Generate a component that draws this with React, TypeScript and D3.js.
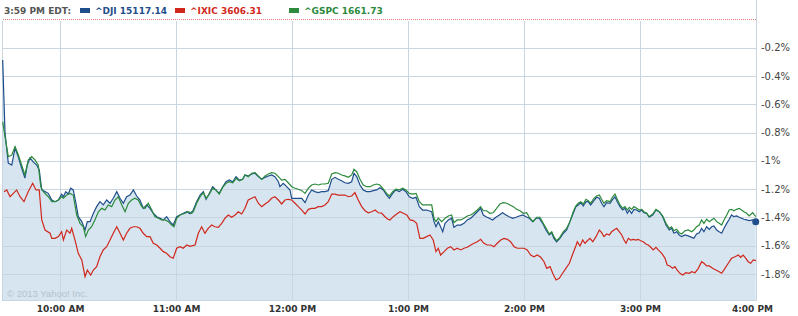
import React from "react";
import * as d3 from "d3";

// minutes since 9:30 AM, % change
const dji: [number, number][] = [
[0.1,-0.288],[1.3,-0.803],[3.0,-1.016],[4.8,-1.030],[6.5,-0.909],[8.2,-0.973],[9.9,-1.051],[11.6,-1.122],[12.8,-1.030],[14.2,-0.980],[15.9,-1.008],[17.7,-1.030],[19.0,-1.065],[20.3,-1.206],[21.1,-1.211],[23.7,-1.230],[25.5,-1.277],[27.2,-1.289],[28.9,-1.277],[30.6,-1.235],[31.5,-1.254],[32.7,-1.218],[34.0,-1.235],[35.3,-1.194],[36.6,-1.206],[38.0,-1.300],[39.2,-1.395],[41.0,-1.430],[42.7,-1.489],[43.9,-1.430],[45.3,-1.430],[47.0,-1.371],[48.7,-1.324],[50.4,-1.289],[52.1,-1.312],[53.9,-1.277],[55.6,-1.300],[57.3,-1.265],[59.1,-1.218],[60.8,-1.265],[62.5,-1.300],[64.2,-1.254],[65.9,-1.242],[67.7,-1.206],[69.4,-1.249],[71.1,-1.277],[72.8,-1.336],[74.6,-1.312],[76.3,-1.336],[78.0,-1.371],[79.8,-1.395],[81.5,-1.406],[83.2,-1.418],[84.9,-1.395],[86.6,-1.430],[88.3,-1.454],[90.1,-1.395],[91.8,-1.383],[93.5,-1.371],[95.3,-1.360],[97.0,-1.374],[98.7,-1.348],[100.4,-1.289],[102.2,-1.242],[103.9,-1.218],[105.3,-1.272],[107.0,-1.230],[108.7,-1.183],[110.4,-1.206],[112.1,-1.230],[113.9,-1.183],[115.6,-1.148],[117.3,-1.136],[119.1,-1.148],[120.8,-1.112],[122.5,-1.136],[124.2,-1.131],[125.4,-1.100],[127.1,-1.107],[128.9,-1.093],[130.6,-1.088],[132.3,-1.112],[134.1,-1.131],[135.8,-1.117],[137.5,-1.107],[139.2,-1.100],[140.9,-1.112],[142.7,-1.148],[143.5,-1.183],[145.2,-1.159],[147.0,-1.183],[148.7,-1.206],[149.6,-1.265],[151.3,-1.265],[153.0,-1.265],[154.8,-1.265],[156.5,-1.296],[158.2,-1.242],[159.9,-1.206],[161.6,-1.218],[163.3,-1.225],[165.1,-1.218],[166.8,-1.218],[168.5,-1.211],[170.3,-1.131],[172.0,-1.117],[173.7,-1.131],[175.4,-1.141],[177.1,-1.155],[178.9,-1.159],[180.6,-1.148],[181.8,-1.088],[183.2,-1.112],[184.9,-1.171],[186.6,-1.206],[188.4,-1.218],[190.1,-1.218],[191.8,-1.211],[193.5,-1.206],[195.2,-1.190],[197.0,-1.206],[198.7,-1.242],[200.1,-1.265],[201.8,-1.230],[203.5,-1.206],[205.2,-1.218],[207.0,-1.201],[208.7,-1.218],[210.4,-1.254],[212.2,-1.265],[213.9,-1.258],[215.6,-1.324],[217.3,-1.348],[219.4,-1.348],[222.0,-1.360],[223.2,-1.430],[224.2,-1.466],[225.4,-1.430],[226.6,-1.466],[227.7,-1.501],[228.9,-1.442],[230.6,-1.418],[232.3,-1.406],[233.5,-1.470],[235.2,-1.454],[237.0,-1.454],[238.7,-1.442],[240.4,-1.418],[242.2,-1.406],[243.9,-1.383],[245.6,-1.360],[247.3,-1.336],[248.7,-1.383],[250.1,-1.395],[251.8,-1.406],[253.5,-1.418],[255.2,-1.399],[257.0,-1.383],[258.7,-1.367],[260.4,-1.383],[262.1,-1.395],[263.9,-1.406],[265.6,-1.399],[267.3,-1.390],[269.1,-1.383],[270.8,-1.395],[272.5,-1.406],[274.2,-1.430],[275.9,-1.406],[277.6,-1.406],[279.4,-1.442],[281.1,-1.489],[282.8,-1.524],[284.1,-1.508],[285.2,-1.548],[286.6,-1.572],[288.3,-1.548],[290.1,-1.512],[291.8,-1.489],[293.5,-1.430],[295.2,-1.371],[296.6,-1.324],[297.8,-1.312],[299.1,-1.296],[300.4,-1.319],[301.8,-1.289],[303.0,-1.289],[304.2,-1.312],[305.9,-1.282],[307.3,-1.258],[308.7,-1.265],[309.9,-1.300],[311.1,-1.324],[312.5,-1.296],[314.2,-1.300],[315.6,-1.272],[316.8,-1.254],[318.0,-1.289],[319.4,-1.324],[320.8,-1.348],[322.0,-1.336],[323.2,-1.371],[324.2,-1.348],[325.4,-1.371],[326.6,-1.343],[328.0,-1.348],[329.4,-1.360],[330.6,-1.348],[331.8,-1.367],[333.2,-1.371],[334.5,-1.399],[336.3,-1.383],[338.0,-1.348],[339.7,-1.360],[341.5,-1.395],[343.2,-1.454],[344.9,-1.489],[346.1,-1.477],[347.3,-1.512],[348.7,-1.501],[350.0,-1.524],[351.3,-1.536],[353.0,-1.524],[354.7,-1.531],[356.5,-1.541],[357.6,-1.548],[359.0,-1.517],[360.4,-1.508],[361.6,-1.477],[362.8,-1.501],[364.2,-1.466],[365.6,-1.484],[366.8,-1.466],[368.0,-1.461],[369.4,-1.489],[370.7,-1.501],[372.0,-1.512],[373.2,-1.477],[374.6,-1.442],[375.9,-1.413],[377.1,-1.383],[378.3,-1.395],[379.7,-1.390],[381.1,-1.399],[382.3,-1.406],[383.5,-1.413],[384.9,-1.418],[386.2,-1.423],[388.0,-1.418],[389.6,-1.430]
];

const gspc: [number, number][] = [
[0.1,-0.724],[1.3,-0.830],[3.0,-0.971],[4.8,-0.959],[6.5,-0.900],[8.2,-0.959],[9.9,-1.030],[11.6,-1.100],[13.3,-0.994],[15.1,-0.971],[16.8,-0.994],[18.5,-1.030],[19.8,-1.183],[21.1,-1.218],[23.7,-1.254],[25.5,-1.289],[27.2,-1.289],[28.9,-1.277],[30.6,-1.254],[31.5,-1.265],[33.2,-1.242],[34.9,-1.230],[36.6,-1.242],[38.4,-1.383],[40.1,-1.442],[41.8,-1.466],[43.0,-1.536],[44.4,-1.489],[46.1,-1.466],[47.8,-1.418],[49.6,-1.360],[51.3,-1.336],[53.0,-1.348],[54.7,-1.312],[56.5,-1.324],[58.2,-1.277],[59.9,-1.254],[61.7,-1.312],[63.4,-1.360],[65.1,-1.300],[66.8,-1.277],[68.5,-1.265],[70.2,-1.277],[72.0,-1.324],[73.7,-1.336],[75.4,-1.300],[77.2,-1.348],[78.9,-1.395],[80.6,-1.406],[82.3,-1.418],[84.1,-1.418],[85.8,-1.430],[87.5,-1.454],[88.7,-1.466],[90.1,-1.406],[91.8,-1.383],[94.4,-1.371],[96.1,-1.360],[97.9,-1.371],[98.7,-1.360],[100.4,-1.300],[102.2,-1.254],[103.9,-1.225],[105.3,-1.265],[107.0,-1.235],[108.7,-1.194],[110.4,-1.206],[112.1,-1.235],[113.9,-1.187],[115.6,-1.159],[117.3,-1.148],[119.1,-1.155],[120.8,-1.124],[122.5,-1.141],[124.2,-1.131],[125.4,-1.100],[127.1,-1.112],[128.9,-1.088],[130.6,-1.084],[132.3,-1.107],[134.1,-1.131],[135.8,-1.107],[137.5,-1.093],[139.2,-1.084],[140.9,-1.088],[142.7,-1.112],[144.4,-1.136],[146.1,-1.131],[147.8,-1.155],[149.6,-1.183],[151.3,-1.194],[153.0,-1.201],[154.8,-1.211],[156.5,-1.230],[158.2,-1.194],[159.9,-1.171],[161.6,-1.164],[163.3,-1.171],[165.1,-1.164],[166.8,-1.164],[168.5,-1.159],[170.3,-1.093],[172.0,-1.084],[173.7,-1.088],[175.4,-1.100],[177.1,-1.107],[178.9,-1.117],[180.6,-1.100],[181.8,-1.060],[183.2,-1.077],[184.9,-1.131],[186.6,-1.171],[188.4,-1.183],[190.1,-1.183],[191.8,-1.171],[193.5,-1.164],[195.2,-1.171],[197.0,-1.201],[198.7,-1.230],[200.1,-1.249],[201.8,-1.218],[203.5,-1.201],[205.2,-1.206],[207.0,-1.194],[208.7,-1.206],[210.4,-1.230],[212.2,-1.235],[213.9,-1.230],[215.6,-1.289],[217.3,-1.312],[219.4,-1.312],[222.0,-1.312],[223.2,-1.406],[224.2,-1.430],[225.4,-1.406],[227.2,-1.430],[228.9,-1.406],[230.6,-1.390],[232.3,-1.383],[233.5,-1.437],[235.2,-1.418],[237.0,-1.418],[238.7,-1.406],[240.4,-1.390],[242.2,-1.383],[243.9,-1.367],[245.6,-1.348],[247.3,-1.324],[248.7,-1.353],[250.4,-1.353],[252.1,-1.371],[253.8,-1.367],[255.6,-1.336],[257.3,-1.305],[259.0,-1.296],[260.8,-1.300],[262.5,-1.312],[264.2,-1.324],[265.9,-1.343],[267.7,-1.353],[269.4,-1.371],[271.1,-1.367],[272.8,-1.406],[274.5,-1.430],[276.3,-1.399],[278.0,-1.399],[279.7,-1.442],[281.5,-1.484],[282.8,-1.517],[284.1,-1.501],[285.2,-1.536],[286.6,-1.565],[288.3,-1.541],[290.1,-1.501],[291.8,-1.477],[293.5,-1.430],[295.2,-1.360],[296.6,-1.319],[297.8,-1.300],[299.1,-1.289],[300.4,-1.305],[301.8,-1.272],[303.0,-1.282],[304.2,-1.300],[305.9,-1.265],[307.3,-1.249],[308.7,-1.242],[309.9,-1.272],[311.1,-1.300],[312.5,-1.282],[314.2,-1.289],[315.6,-1.254],[316.8,-1.235],[318.0,-1.272],[319.4,-1.312],[320.8,-1.336],[322.0,-1.324],[323.2,-1.348],[324.2,-1.329],[325.4,-1.343],[326.6,-1.324],[328.0,-1.336],[329.4,-1.348],[330.6,-1.343],[331.8,-1.360],[333.2,-1.371],[334.5,-1.395],[336.3,-1.376],[338.0,-1.343],[339.7,-1.360],[341.5,-1.390],[343.2,-1.442],[344.9,-1.477],[346.1,-1.466],[347.3,-1.494],[348.7,-1.484],[350.0,-1.508],[351.3,-1.517],[353.0,-1.494],[354.7,-1.489],[356.5,-1.501],[357.6,-1.489],[359.0,-1.466],[360.4,-1.454],[361.6,-1.418],[362.8,-1.442],[364.2,-1.413],[365.6,-1.430],[366.8,-1.418],[368.0,-1.406],[369.4,-1.430],[370.7,-1.442],[372.0,-1.454],[373.2,-1.418],[374.6,-1.383],[375.9,-1.348],[377.1,-1.343],[378.3,-1.353],[379.7,-1.343],[381.1,-1.336],[382.3,-1.348],[383.5,-1.360],[384.9,-1.371],[386.2,-1.390],[388.0,-1.367],[389.6,-1.395]
];

const ixic: [number, number][] = [
[0.8,-1.218],[2.2,-1.206],[3.9,-1.254],[5.6,-1.230],[7.3,-1.206],[9.1,-1.254],[11.1,-1.289],[13.3,-1.218],[15.6,-1.159],[17.3,-1.206],[19.0,-1.206],[20.3,-1.418],[22.0,-1.489],[24.6,-1.512],[25.5,-1.548],[27.2,-1.548],[28.9,-1.536],[30.6,-1.501],[31.5,-1.560],[33.2,-1.489],[34.9,-1.512],[35.8,-1.477],[37.5,-1.560],[39.2,-1.654],[41.0,-1.701],[42.7,-1.819],[43.9,-1.772],[45.6,-1.807],[47.0,-1.772],[48.7,-1.748],[50.4,-1.678],[52.1,-1.630],[53.9,-1.607],[55.6,-1.560],[57.3,-1.512],[59.1,-1.466],[60.8,-1.512],[62.5,-1.560],[64.2,-1.512],[65.9,-1.477],[67.7,-1.466],[69.4,-1.466],[71.1,-1.477],[72.8,-1.512],[74.6,-1.536],[76.3,-1.536],[78.0,-1.583],[79.8,-1.595],[81.5,-1.618],[83.2,-1.642],[84.9,-1.654],[86.6,-1.678],[88.3,-1.689],[90.1,-1.618],[91.8,-1.607],[93.5,-1.618],[95.3,-1.595],[97.0,-1.605],[99.6,-1.595],[101.3,-1.512],[103.0,-1.466],[104.7,-1.512],[106.4,-1.477],[108.2,-1.454],[109.9,-1.466],[111.6,-1.470],[113.4,-1.442],[115.1,-1.406],[116.8,-1.383],[118.5,-1.399],[120.3,-1.383],[122.0,-1.360],[123.7,-1.376],[125.4,-1.336],[127.1,-1.277],[128.9,-1.265],[130.6,-1.254],[132.3,-1.300],[134.1,-1.324],[135.8,-1.305],[137.5,-1.289],[139.2,-1.265],[140.9,-1.254],[142.7,-1.277],[144.4,-1.305],[146.1,-1.277],[147.8,-1.272],[149.6,-1.277],[151.3,-1.300],[153.0,-1.324],[154.8,-1.348],[156.5,-1.376],[158.2,-1.343],[159.9,-1.336],[161.6,-1.336],[163.3,-1.324],[165.1,-1.324],[166.8,-1.312],[168.5,-1.289],[170.3,-1.235],[172.0,-1.235],[173.7,-1.242],[175.4,-1.242],[177.1,-1.242],[178.9,-1.254],[180.6,-1.249],[182.3,-1.225],[184.0,-1.277],[185.8,-1.324],[187.5,-1.353],[189.2,-1.367],[191.0,-1.360],[192.7,-1.348],[194.4,-1.367],[196.1,-1.370],[197.8,-1.395],[199.4,-1.413],[200.4,-1.418],[202.1,-1.395],[203.9,-1.376],[205.6,-1.360],[207.3,-1.371],[209.1,-1.383],[210.8,-1.418],[212.5,-1.423],[214.2,-1.442],[215.9,-1.548],[217.6,-1.548],[219.4,-1.536],[221.1,-1.524],[222.8,-1.560],[224.2,-1.642],[225.4,-1.618],[226.6,-1.666],[228.4,-1.642],[230.1,-1.618],[231.8,-1.607],[233.5,-1.630],[235.2,-1.618],[237.0,-1.630],[238.7,-1.618],[240.4,-1.611],[242.2,-1.595],[243.9,-1.583],[245.6,-1.572],[247.3,-1.555],[249.0,-1.583],[250.7,-1.595],[252.5,-1.595],[254.2,-1.607],[255.9,-1.583],[257.7,-1.560],[259.4,-1.548],[261.1,-1.555],[262.8,-1.572],[264.6,-1.607],[266.3,-1.618],[268.0,-1.618],[269.7,-1.618],[271.4,-1.630],[273.2,-1.666],[274.9,-1.678],[276.6,-1.666],[278.4,-1.682],[280.1,-1.713],[281.5,-1.760],[283.2,-1.748],[284.6,-1.795],[286.3,-1.842],[288.0,-1.830],[289.7,-1.795],[291.4,-1.760],[293.2,-1.724],[294.9,-1.660],[296.6,-1.600],[297.3,-1.572],[298.7,-1.602],[300.1,-1.560],[301.3,-1.583],[302.5,-1.565],[303.9,-1.548],[305.3,-1.572],[307.0,-1.536],[308.7,-1.489],[309.9,-1.508],[311.1,-1.536],[312.5,-1.517],[313.9,-1.524],[315.1,-1.501],[316.3,-1.489],[317.7,-1.477],[319.0,-1.501],[320.3,-1.524],[321.5,-1.560],[322.5,-1.583],[323.7,-1.548],[324.9,-1.560],[326.3,-1.555],[327.7,-1.560],[328.8,-1.555],[330.1,-1.565],[331.4,-1.572],[332.8,-1.588],[334.0,-1.595],[335.3,-1.611],[336.6,-1.630],[338.0,-1.611],[339.2,-1.630],[341.0,-1.654],[342.7,-1.689],[343.8,-1.736],[345.2,-1.743],[346.6,-1.760],[347.8,-1.748],[349.0,-1.772],[350.4,-1.795],[351.8,-1.807],[353.5,-1.791],[355.2,-1.795],[356.5,-1.784],[358.2,-1.791],[359.9,-1.760],[361.6,-1.713],[362.8,-1.724],[364.2,-1.743],[365.6,-1.743],[367.3,-1.760],[369.0,-1.772],[370.7,-1.784],[372.0,-1.795],[373.7,-1.760],[375.4,-1.724],[377.1,-1.689],[378.9,-1.678],[380.6,-1.666],[381.8,-1.682],[383.1,-1.666],[384.5,-1.689],[385.7,-1.713],[387.0,-1.724],[388.3,-1.701],[389.7,-1.706]
];

const seriesNames = ["^DJI", "^IXIC", "^GSPC"];
const seriesLast = ["15117.14", "3606.31", "1661.73"];
const seriesColors = ["#1f4e8c", "#d0281c", "#2b8a3b"];
const legendTime = "3:59 PM EDT:";

const yTicks = [-0.2, -0.4, -0.6, -0.8, -1.0, -1.2, -1.4, -1.6, -1.8];
const yTickLabels = ["-0.2%", "-0.4%", "-0.6%", "-0.8%", "-1%", "-1.2%", "-1.4%", "-1.6%", "-1.8%"];
const xTicks = [30, 90, 150, 210, 270, 330, 390];
const xTickLabels = ["10:00 AM", "11:00 AM", "12:00 PM", "1:00 PM", "2:00 PM", "3:00 PM", "4:00 PM"];
const copyright = "© 2013 Yahoo! Inc.";

const W = 798, H = 316;
const L = 2.5, R = 756.5, B = 300.5, TOPGRID = 21;

export default function App() {
  const x = d3.scaleLinear().domain([0, 390]).range([L, R]);
  const y = d3.scaleLinear().domain([0, -1.8]).range([19.3, 274]);
  const line = d3.line<[number, number]>().x(d => x(d[0])).y(d => y(d[1]));
  const area = d3.area<[number, number]>().x(d => x(d[0])).y0(B).y1(d => y(d[1]));
  const last = dji[dji.length - 1];
  const font = "'DejaVu Sans', Verdana, sans-serif";
  const legendX = [[80, 95], [175, 190], [289, 304]];
  const grid = "#c9d5df";
  return (
    <svg width={W} height={H} style={{ position: "fixed", left: 0, top: 0, background: "#fff" }}>
      <path d={area(dji) || ""} fill="#d7e5f1" />
      <g shapeRendering="crispEdges" stroke={grid} strokeWidth={1}>
        {yTicks.map((t, i) => (
          <line key={"h" + i} x1={L} x2={R} y1={Math.round(y(t)) + 0.5} y2={Math.round(y(t)) + 0.5} />
        ))}
        {xTicks.slice(0, -1).map((t, i) => (
          <line key={"v" + i} x1={x(t)} x2={x(t)} y1={TOPGRID} y2={B} />
        ))}
        <line x1={L} x2={L} y1={TOPGRID} y2={B} />
        <line x1={R} x2={R} y1={0} y2={B} />
        <line x1={L} x2={R} y1={B} y2={B} />
      </g>
      <line x1={L} x2={R} y1={Math.round(y(0)) + 0.5} y2={Math.round(y(0)) + 0.5}
        stroke="#e07a74" strokeWidth={1} strokeDasharray="1,1" shapeRendering="crispEdges" />
      <text x={7} y={296.5} fontFamily="'Liberation Sans', Arial, sans-serif" fontSize={9.5} fill="#b3c2ce">{copyright}</text>
      <path d={line(ixic) || ""} fill="none" stroke={seriesColors[1]} strokeWidth={1.2} />
      <path d={line(dji) || ""} fill="none" stroke={seriesColors[0]} strokeWidth={1.2} />
      <path d={line(gspc) || ""} fill="none" stroke={seriesColors[2]} strokeWidth={1.2} />
      <circle cx={x(last[0])} cy={y(last[1])} r={3.5} fill={seriesColors[0]} />
      <g fontFamily={font} fontSize={10} fill="#444">
        {yTicks.map((t, i) => (
          <text key={"yl" + i} x={761} y={y(t)} dy="0.36em">{yTickLabels[i]}</text>
        ))}
      </g>
      <g fontFamily={font} fontSize={9} fontWeight="bold" fill="#333" textAnchor="middle">
        {xTicks.map((t, i) => (
          <text key={"xl" + i} x={i === xTicks.length - 1 ? x(t) - 4 : x(t)} y={312}>{xTickLabels[i]}</text>
        ))}
      </g>
      <g fontFamily={font} fontSize={9} fontWeight="bold">
        <text x={4} y={14} fill="#555">{legendTime}</text>
        {seriesNames.map((n, i) => (
          <g key={n}>
            <rect x={legendX[i][0]} y={8} width={10} height={5} fill={seriesColors[i]} />
            <text x={legendX[i][1]} y={14} fill={seriesColors[i]}>{n + " " + seriesLast[i]}</text>
          </g>
        ))}
      </g>
    </svg>
  );
}
